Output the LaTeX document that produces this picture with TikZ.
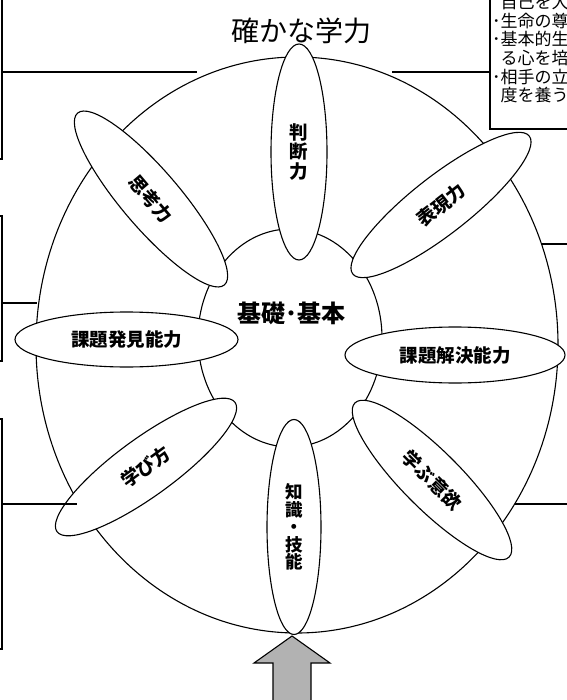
\documentclass[tikz,border=0pt]{standalone}
\usepackage{fontspec}
\newfontfamily\jp{Noto Sans CJK JP}
\usetikzlibrary{shapes.geometric}
\begin{document}
\begin{tikzpicture}[x=1pt,y=-1pt,
  ring/.style={draw=black, line width=1.1pt, fill=white, ellipse, inner sep=0pt},
  petal/.style={draw=black, line width=1.1pt, fill=white, ellipse, inner sep=0pt,
    font=\jp\bfseries\fontsize{18.5}{19.5}\selectfont, align=center},
  conn/.style={draw=black, line width=1.8pt},
  sidebox/.style={draw=black, line width=1.8pt, rectangle, inner sep=0pt},
  boxtext/.style={anchor=base west, inner sep=0pt, font=\jp\fontsize{17}{18}\selectfont},
  arrowfill/.style={draw=black, line width=1.1pt, fill=black!30}]
\useasboundingbox (0,0) rectangle (566,700);

% rings
\node[ring, minimum width=522pt, minimum height=576pt] (outer) at (297,345) {};
\node[ring, minimum width=184pt, minimum height=218pt] (inner) at (290,338) {};

% petals
\node[petal, minimum width=56pt, minimum height=216pt] (handan) at (299,152) {判\\断\\力};
\node[petal, minimum width=54pt, minimum height=215pt, font=\jp\bfseries\fontsize{17.5}{17.5}\selectfont] (chishiki) at (294,527) {知\\識\\・\\技\\能};
\node[petal, minimum width=223pt, minimum height=55pt] (hakken) at (126.5,339.5) {課題発見能力};
\node[petal, minimum width=220pt, minimum height=56pt] (kaiketsu) at (455,355) {課題解決能力};
\node[petal, minimum width=226pt, minimum height=58pt, rotate=-49.5] (shiko) at (151,199) {思考力};
\node[petal, minimum width=224pt, minimum height=58pt, rotate=38] (hyogen) at (441,205) {表現力};
\node[petal, minimum width=220pt, minimum height=58pt, rotate=36] (manabikata) at (146,467) {学び方};
\node[petal, minimum width=218pt, minimum height=58pt, rotate=-45] (iyoku) at (432,480) {学ぶ意欲};

% centre and title
\node[font=\jp\bfseries\fontsize{24}{26}\selectfont, inner sep=0pt] (kiso) at (291,313) {基礎･基本};
\node[font=\jp\fontsize{28}{30}\selectfont, inner sep=0pt] (title) at (301,31) {確かな学力};

% side boxes
\node[sidebox, minimum width=20pt, minimum height=163pt, anchor=north east] (lb1) at (3,-5) {};
\node[sidebox, minimum width=20pt, minimum height=145pt, anchor=north east] (lb2) at (3,215) {};
\node[sidebox, minimum width=20pt, minimum height=230pt, anchor=north east] (lb3) at (3,418) {};
\node[sidebox, minimum width=90pt, minimum height=133pt, anchor=north west] (rb) at (489,-5) {};

% text of the right box (clipped by the page)
\node[boxtext] (t1) at (492,8.5) {\phantom{･}自己を大};
\node[boxtext] (t2) at (492,27.2) {･生命の尊};
\node[boxtext] (t3) at (492,45.9) {･基本的生};
\node[boxtext] (t4) at (492,64.6) {\phantom{･}る心を培};
\node[boxtext] (t5) at (492,83.3) {･相手の立};
\node[boxtext] (t6) at (492,102) {\phantom{･}度を養う};

% connector end points
\coordinate (a1) at (197,72);
\coordinate (a2) at (392,72);
\coordinate (a3) at (37,303);
\coordinate (a4) at (77,504);
\coordinate (a5) at (541,244);
\coordinate (a6) at (515,504);
\coordinate (r5) at (580,244);
\coordinate (r6) at (580,504);

\draw[conn] (lb1.east |- a1) -- (a1);
\draw[conn] (a2) -- (rb.west |- a2);
\draw[conn] (lb2.east |- a3) -- (a3);
\draw[conn] (lb3.east |- a4) -- (a4);
\draw[conn] (a5) -- (r5);
\draw[conn] (a6) -- (r6);

% arrow
\coordinate (tip) at (292,636);
\draw[arrowfill] (tip) -- ++(38,27) -- ++(-19,0) -- ++(0,45) -- ++(-38,0) -- ++(0,-45) -- ++(-19,0) -- cycle;
\end{tikzpicture}
\end{document}
